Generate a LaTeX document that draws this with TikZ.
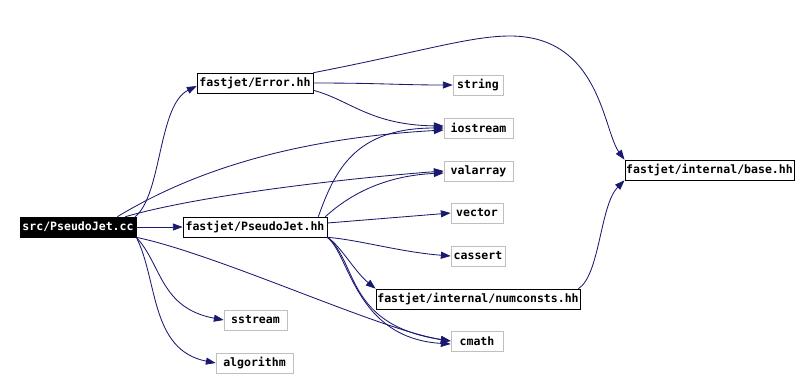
\documentclass[tikz,border=0pt]{standalone}
\usepackage{fontspec}
\setmonofont{DejaVu Sans Mono}
\usepackage{tikz}
\usetikzlibrary{arrows.meta}
\definecolor{edgeblue}{HTML}{191970}
\definecolor{extgray}{HTML}{BFBFBF}

\begin{document}
\begin{tikzpicture}[x=0.025cm,y=-0.025cm,
 font=\ttfamily\bfseries\fontsize{8.2}{9.5}\selectfont,
 root/.style={draw=black,fill=black,text=white,minimum height=0.5cm,inner sep=1pt},
 loc/.style={draw=black,fill=white,minimum height=0.5cm,inner sep=1pt},
 ext/.style={draw=extgray,fill=white,minimum height=0.5cm,inner sep=1pt},
 inc/.style={-{Triangle[length=7pt,width=5pt]},draw=edgeblue,line width=0.6pt}]
\useasboundingbox (0,0) rectangle (806,378);
\node[root,minimum width=2.9cm] (cc) at (78,227) {src/PseudoJet.cc};
\node[loc,minimum width=2.9cm] (err) at (255,83) {fastjet/Error.hh};
\node[ext,minimum width=1.25cm] (str) at (478,85) {string};
\node[ext,minimum width=1.725cm] (ios) at (478.5,128) {iostream};
\node[ext,minimum width=1.725cm] (val) at (478.5,171) {valarray};
\node[ext,minimum width=1.3cm] (vec) at (477,213) {vector};
\node[ext,minimum width=1.35cm] (cas) at (478,256) {cassert};
\node[loc,minimum width=3.6cm] (pj) at (255,227) {fastjet/PseudoJet.hh};
\node[loc,minimum width=5.1cm] (num) at (478,299) {fastjet/internal/numconsts.hh};
\node[ext,minimum width=1.3cm] (cm) at (477,341) {cmath};
\node[ext,minimum width=1.575cm] (ss) at (255.5,320) {sstream};
\node[ext,minimum width=1.925cm] (alg) at (254.5,363) {algorithm};
\node[loc,minimum width=4.075cm] (base) at (709.5,170) {fastjet/internal/base.hh};
% includes of src/PseudoJet.cc
\draw[inc] ([xshift=-0.03cm]cc.north east) .. controls (162,195) and (158,105) .. ([yshift=-0.075cm]err.west);
\draw[inc] ([xshift=-0.475cm]cc.north east) .. controls (170,185) and (265,140) .. ([yshift=-0.05cm]ios.west);
\draw[inc] ([xshift=-0.275cm]cc.north east) .. controls (200,195) and (350,178) .. (val.west);
\draw[inc] (cc.east) -- (pj.west);
\draw[inc] (cc.south east) .. controls (220,255) and (380,330) .. (cm.west);
\draw[inc] (cc.south east) .. controls (162,265) and (160,308) .. (ss.west);
\draw[inc] (cc.south east) .. controls (158,280) and (150,350) .. (alg.west);
% includes of fastjet/Error.hh
\draw[inc] (err.east) .. controls (380,83) and (400,85) .. (str.west);
\draw[inc] ([yshift=0.075cm]err.south east) .. controls (350,100) and (370,125) .. ([yshift=0.05cm]ios.west);
\draw[inc] (err.north east) .. controls (420,52) and (470,36) .. (510,36)
  .. controls (600,36) and (603,130) .. (base.north west);
% includes of fastjet/PseudoJet.hh
\draw[inc] ([xshift=-0.225cm]pj.north east) .. controls (335,170) and (355,128) .. (ios.west);
\draw[inc] ([xshift=-0.05cm]pj.north east) .. controls (360,185) and (400,175) .. ([yshift=-0.05cm]val.west);
\draw[inc] ([yshift=0.1cm]pj.east) -- (vec.west);
\draw[inc] (pj.south east) .. controls (360,240) and (400,252) .. (cas.west);
\draw[inc] (pj.south east) .. controls (340,245) and (355,272) .. (num.north west);
\draw[inc] (pj.south east) .. controls (358,262) and (345,325) .. (cm.west);
\draw[inc] (pj.south east) .. controls (350,255) and (355,338) .. ([yshift=-0.075cm]cm.west);
% includes of fastjet/internal/numconsts.hh
\draw[inc] ([xshift=-0.05cm]num.north east) .. controls (600,275) and (600,205) .. (base.south west);
\end{tikzpicture}
\end{document}
